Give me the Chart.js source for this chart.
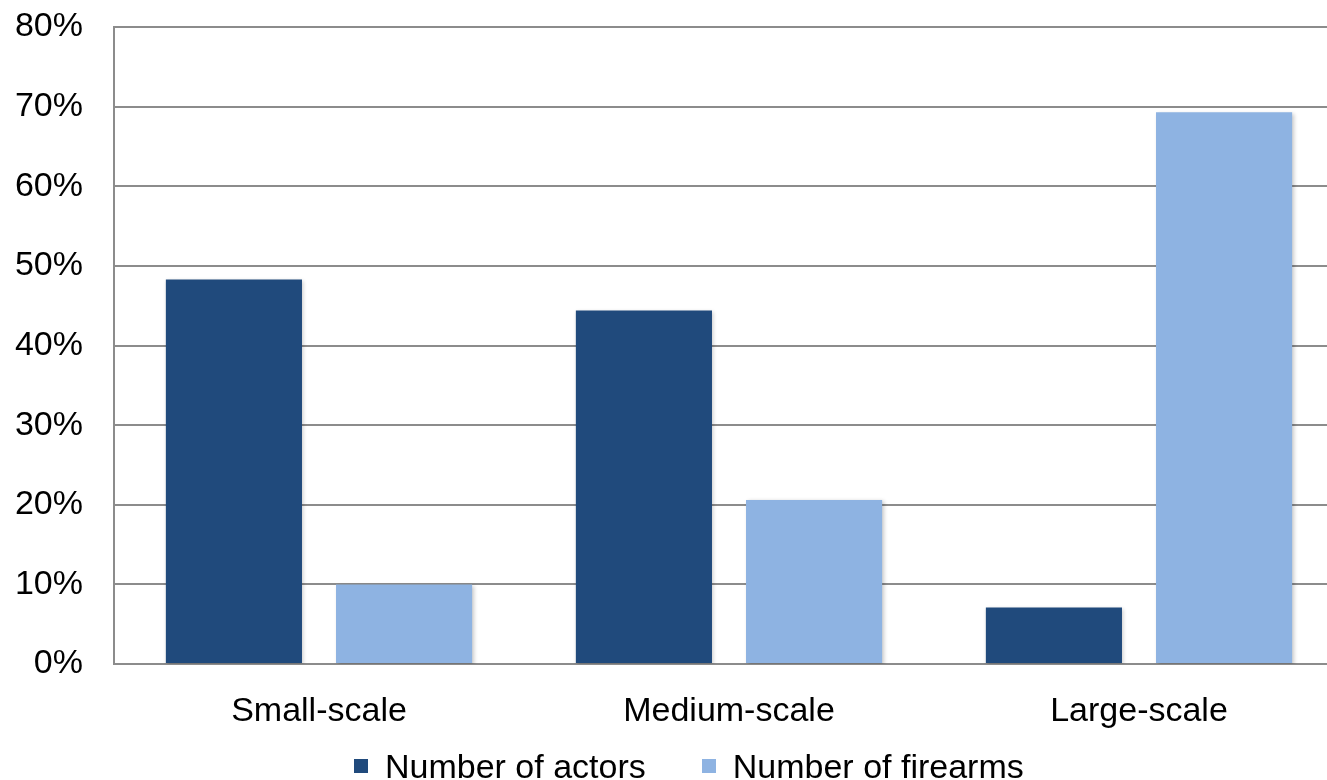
<!DOCTYPE html>
<html>
<head>
<meta charset="utf-8">
<script src="https://cdn.jsdelivr.net/npm/chart.js@4.4.1/dist/chart.umd.min.js"></script>
<style>
  html, body { margin: 0; padding: 0; background: #fff; overflow: hidden; }
  #wrap { width: 1344px; height: 780px; position: relative; }
  #legend {
    position: absolute; left: 354px; top: 749px;
    display: flex; gap: 56px;
    font: 34px 'Liberation Sans', Arial, sans-serif; line-height: 34px; color: #000;
    white-space: nowrap;
  }
  #legend .item { display: flex; align-items: center; }
  #legend .box { width: 14px; height: 14px; margin-right: 17px; }
</style>
</head>
<body>
<div id="wrap"><canvas id="chart"></canvas><div id="legend"></div></div>
<script>
// categories and values (percent)
const categories = ['Small-scale', 'Medium-scale', 'Large-scale'];
const actors = [48.3, 44.4, 7.1];
const firearms = [10.0, 20.6, 69.3];
const yTicks = [0, 10, 20, 30, 40, 50, 60, 70, 80];

const FONT = 'Liberation Sans, Arial, Helvetica, sans-serif';
const GRID = '#8c8c8c';

// soft drop shadow on the bars, like the office chart
const barShadow = {
    id: 'barShadow',
    beforeDatasetsDraw(chart) {
        const ctx = chart.ctx;
        ctx.save();
        ctx.shadowColor = 'rgba(0,0,0,0.22)';
        ctx.shadowBlur = 4;
        ctx.shadowOffsetX = 1.5;
        ctx.shadowOffsetY = 1.5;
    },
    afterDatasetsDraw(chart) {
        chart.ctx.restore();
    }
};

const chart = new Chart(document.getElementById('chart'), {
    type: 'bar',
    data: {
        labels: categories,
        datasets: [
            {
                label: 'Number of actors',
                data: actors,
                backgroundColor: '#204A7C',
                barPercentage: 0.8,
                categoryPercentage: 0.83,
            },
            {
                label: 'Number of firearms',
                data: firearms,
                backgroundColor: '#8EB3E2',
                barPercentage: 0.8,
                categoryPercentage: 0.83,
            }
        ]
    },
    options: {
        responsive: true,
        maintainAspectRatio: false,
        animation: false,
        layout: { padding: { left: 0, right: 0, top: 27, bottom: 0 } },
        plugins: {
            tooltip: { enabled: false },
            legend: { display: false }
        },
        scales: {
            x: {
                grid: { display: false, drawTicks: false },
                border: { display: true, color: GRID, width: 2 },
                ticks: {
                    color: '#000',
                    padding: 27,
                    font: { family: FONT, size: 34 },
                },
                afterFit(scale) {
                    scale.height = 116;
                    scale.paddingLeft = 0;
                    scale.paddingRight = 0;
                }
            },
            y: {
                min: 0,
                max: 80,
                afterBuildTicks(scale) {
                    scale.ticks = yTicks.map(v => ({ value: v }));
                },
                grid: { color: GRID, lineWidth: 2, drawTicks: false },
                border: { display: true, color: GRID, width: 2 },
                ticks: {
                    color: '#000',
                    padding: 31,
                    font: { family: FONT, size: 34 },
                    callback: v => v + '%'
                },
                afterFit(scale) {
                    scale.width = 114;
                    scale.paddingTop = 0;
                    scale.paddingBottom = 0;
                }
            }
        }
    },
    plugins: [barShadow]
});

// html legend built from the datasets
const legendEl = document.getElementById('legend');
chart.data.datasets.forEach(ds => {
    const item = document.createElement('span');
    item.className = 'item';
    const box = document.createElement('span');
    box.className = 'box';
    box.style.background = ds.backgroundColor;
    item.appendChild(box);
    item.appendChild(document.createTextNode(ds.label));
    legendEl.appendChild(item);
});
</script>
</body>
</html>
